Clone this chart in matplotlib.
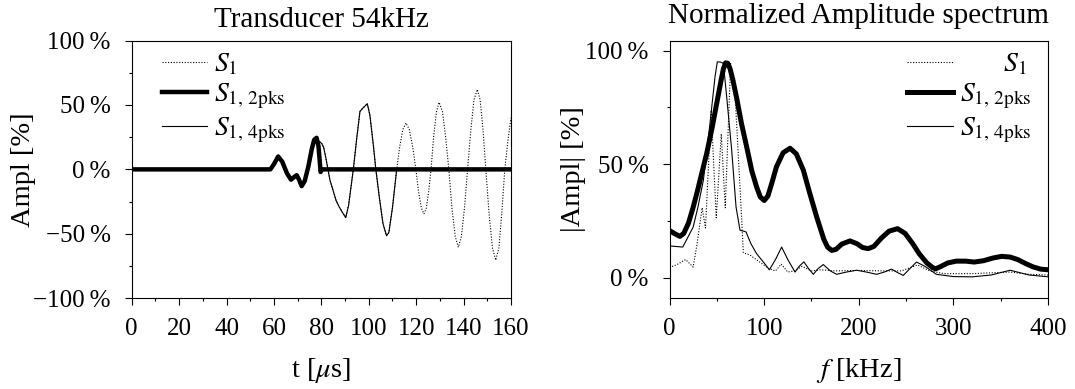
import matplotlib
matplotlib.use("Agg")
import matplotlib.pyplot as plt
from matplotlib.ticker import MultipleLocator, FuncFormatter

plt.rcParams["font.family"] = ["Liberation Serif", "DejaVu Serif"]
plt.rcParams["mathtext.fontset"] = "stix"
plt.rcParams["font.size"] = 18

# time signals, t in microseconds, amplitude in %
t_2pks = [0, 58.5, 60, 61.8, 63.5, 65.5, 67.2, 68.5, 69.6, 70.6, 71.7, 73, 74.5,
          76, 77, 78, 78.8, 79.4, 79.7, 80.2, 160]
a_2pks = [0, 0, 4, 10, 6, -3, -8, -6, -4.5, -8, -13, -9, 2,
          16, 23, 24.5, 18, 5, -2, 0, 0]

t_4pks = [0, 58.5, 60, 61.8, 63.5, 65.5, 67.2, 68.5, 69.6, 70.6, 71.7, 73, 74.5,
          76, 77, 78, 79, 80.2, 81, 81.9, 83.6, 86.2, 87.5, 88.6, 90.3, 91.5,
          93.5, 95, 96.3, 97.5, 99.4, 100.5, 102, 103, 104.5, 106, 107.5, 108.5,
          110, 111.8, 160]
a_4pks = [0, 0, 4, 10, 6, -3, -8, -6, -4.5, -8, -13, -9, 2,
          16, 23, 24.5, 22, 20, 17, 9, -8, -24, -29, -32.5, -37.5, -28,
          0, 25, 45, 47.5, 51, 42, 18, 0, -22, -42, -51.5, -49,
          -30, 0, 0]

t_s1 = [0, 58.5, 60, 61.8, 63.5, 65.5, 67.2, 68.5, 69.6, 70.6, 71.7, 73, 74.5,
        76, 77, 78, 79, 80.2, 81, 81.9, 83.6, 86.2, 87.5, 88.6, 90.3, 91.5,
        93.5, 95, 96.3, 97.5, 99.4, 100.5, 102, 103, 104.5, 106, 107.5, 108.5,
        110, 111.8, 113.1, 114.4, 115.7, 117.1, 118.5, 119.9, 121, 122.2, 123.3,
        124.3, 125.3, 126.3, 127.4, 128.6, 129.7, 131.1, 132.4, 133.8, 135.1,
        136.5, 137.8, 139.1, 140.4, 141.7, 143.1, 144.4, 145.8, 147, 148.2,
        149.4, 150.8, 152.2, 153.6, 154.9, 156.1, 157.4, 158.7, 160]
a_s1 = [0, 0, 4, 10, 6, -3, -8, -6, -4.5, -8, -13, -9, 2,
        16, 23, 24.5, 22, 20, 17, 9, -8, -24, -29, -32.5, -37.5, -28,
        0, 25, 45, 47.5, 51, 42, 18, 0, -22, -42, -51.5, -49,
        -30, 0, 18, 31, 36, 31, 18, 0, -17, -30, -34.5,
        -30, -17, 0, 26, 45, 52, 45, 26, 0, -30,
        -52, -60.5, -52, -30, 0, 31, 54, 62, 54, 31,
        0, -35, -61, -70.5, -61, -35, 0, 22, 40]

# normalized amplitude spectra, f in kHz, |Ampl| in %
f_s1 = [0, 8, 17, 25, 29, 34.5, 38, 44, 49.4, 54.7, 58.9, 64.6, 69.6, 76.2, 78,
        85, 95, 105, 112, 118, 125, 132, 140, 150, 160, 175, 200, 225, 245, 262,
        275, 290, 320, 360, 380, 400]
s_s1 = [4.5, 5.8, 8, 4.7, 14.6, 30.8, 21.9, 73.6, 26.4, 63.3, 30.8, 94.3, 78, 26.4, 11,
        10, 7, 4, 3, 6, 2.5, 3, 5, 3, 3.5, 3, 3.2, 3, 3, 5.6,
        3, 1.8, 1.8, 2.5, 1.5, 1.2]

f_2pks = [0, 5, 11, 15, 20, 25, 30, 35, 39.3, 45, 50, 55, 57, 59.3, 61.5, 64, 67,
          71, 76, 81.5, 87, 92, 96, 100.2, 104, 108, 113, 120, 127.4, 134, 141.4,
          148, 155.5, 163, 167, 171.4, 176, 182, 190.7, 198, 204, 210, 216, 224,
          232, 241, 249, 257, 264, 272, 278, 281, 286, 294, 303, 313, 322, 332,
          342, 351, 360, 368, 376, 384, 392, 400]
s_2pks = [20.8, 19.5, 18.2, 19.5, 24, 31, 39, 47.5, 54.7, 66, 77, 88, 92, 94.6, 94.4, 92, 87,
          79, 68, 57.7, 47, 40, 35.5, 34, 36, 41.5, 48.8, 55, 57, 54.5, 47.4,
          37.5, 26.8, 17, 13.5, 12, 12.5, 14.8, 16.2, 15, 13.3, 12.8, 13.8, 17.5,
          20.5, 21.6, 19.5, 15, 10.5, 6.5, 4.5, 3.9, 4.8, 6.5, 7.3, 7.3, 6.9, 7.5,
          8.7, 9.4, 9.1, 8, 6.3, 4.8, 3.8, 3.5]

f_4pks = [0, 14, 25, 30, 35.8, 42.8, 48.1, 50.5, 53.3, 56.9, 60.4, 65.7, 70.3, 74.5,
          80.8, 86, 92, 100, 105.5, 112, 118.5, 125, 132.6, 137, 142, 147, 152,
          157, 162.5, 170, 176.6, 187, 197.7, 208, 218.8, 227, 234.6, 240, 247,
          254, 261, 270, 282, 300, 320, 340, 360, 380, 400]
s_4pks = [14, 13.5, 22.3, 31, 43, 68, 88.5, 95, 95, 94.4, 79.7, 56.2, 31.2, 20.9,
          20.2, 15, 10.6, 6.5, 3.5, 8, 13.5, 8, 2.5, 5, 7, 4, 1.5,
          4, 5.8, 3, 1.5, 2.5, 3.3, 2.5, 1.5, 2.5, 3.8, 2.5, 1,
          4, 6.9, 5, 1.5, 0.5, 0.4, 1.2, 3.3, 1.2, 0.4]

labels = [r"$S_1$", r"$S_{1,\,\mathrm{2pks}}$", r"$S_{1,\,\mathrm{4pks}}$"]
labels_right = [r"$\qquad\,S_1$", r"$S_{1,\,\mathrm{2pks}}$", r"$S_{1,\,\mathrm{4pks}}$"]


def pct(v, pos):
    return f"{v:.0f}\u2009%".replace("-", "\u2212")


def style_axes(ax):
    for sp in ax.spines.values():
        sp.set_linewidth(0.8)
    ax.tick_params(which="both", direction="out", top=False, right=False, width=0.8)
    ax.tick_params(which="major", length=5, labelsize=18)
    ax.tick_params(axis="x", which="major", pad=9)
    ax.tick_params(axis="y", which="major", pad=10)
    ax.tick_params(which="minor", length=2.5)
    ax.yaxis.set_major_formatter(FuncFormatter(pct))


def plot_lines(ax, xs, ys, labs, thick):
    ax.plot(xs[0], ys[0], color="black", lw=0.8, ls=(0, (1, 1.5)), label=labs[0])
    ax.plot(xs[1], ys[1], color="black", lw=thick, label=labs[1])
    ax.plot(xs[2], ys[2], color="black", lw=0.8, label=labs[2])


def add_legend(ax, x, labs):
    ax.legend(loc="upper left", bbox_to_anchor=(x, 0.955), frameon=False,
              borderpad=0, borderaxespad=0, handlelength=1.65, handletextpad=0.25,
              labelspacing=0.15, fontsize=20)


def main():
    fig = plt.figure(figsize=(10.75, 3.89), dpi=100)

    ax1 = fig.add_axes([0.1225, 0.2335, 0.3528, 0.6622])
    plot_lines(ax1, [t_s1, t_2pks, t_4pks], [a_s1, a_2pks, a_4pks], labels, 3.2)
    ax1.set_xlim(0, 160)
    ax1.set_ylim(-100, 100)
    ax1.xaxis.set_major_locator(MultipleLocator(20))
    ax1.xaxis.set_minor_locator(MultipleLocator(10))
    ax1.yaxis.set_major_locator(MultipleLocator(50))
    ax1.yaxis.set_minor_locator(MultipleLocator(25))
    style_axes(ax1)
    ax1.set_title("Transducer 54kHz", pad=10, fontsize=21)
    ax1.set_xlabel(r"t [$\mu$s]", fontsize=20.5)
    ax1.set_ylabel("Ampl [%]", fontsize=20.5)
    ax1.xaxis.set_label_coords(0.5, -0.225)
    ax1.yaxis.set_label_coords(-0.252, 0.5)
    add_legend(ax1, 0.079, labels)

    ax2 = fig.add_axes([0.6228, 0.2335, 0.3521, 0.6622])
    plot_lines(ax2, [f_s1, f_2pks, f_4pks], [s_s1, s_2pks, s_4pks], labels_right, 3.6)
    ax2.set_xlim(0, 400)
    ax2.set_ylim(-9, 104.4)
    ax2.xaxis.set_major_locator(MultipleLocator(100))
    ax2.xaxis.set_minor_locator(MultipleLocator(50))
    ax2.yaxis.set_major_locator(MultipleLocator(50))
    ax2.yaxis.set_minor_locator(MultipleLocator(25))
    style_axes(ax2)
    ax2.set_title("Normalized Amplitude spectrum", pad=13, fontsize=21)
    ax2.set_xlabel(r"$f$ [kHz]", fontsize=20.5)
    ax2.set_ylabel("|Ampl| [%]", fontsize=20.5)
    ax2.xaxis.set_label_coords(0.5, -0.225)
    ax2.yaxis.set_label_coords(-0.22, 0.5)
    add_legend(ax2, 0.6275, labels_right)

    fig.savefig("out.png", dpi=100)


if __name__ == "__main__":
    main()
